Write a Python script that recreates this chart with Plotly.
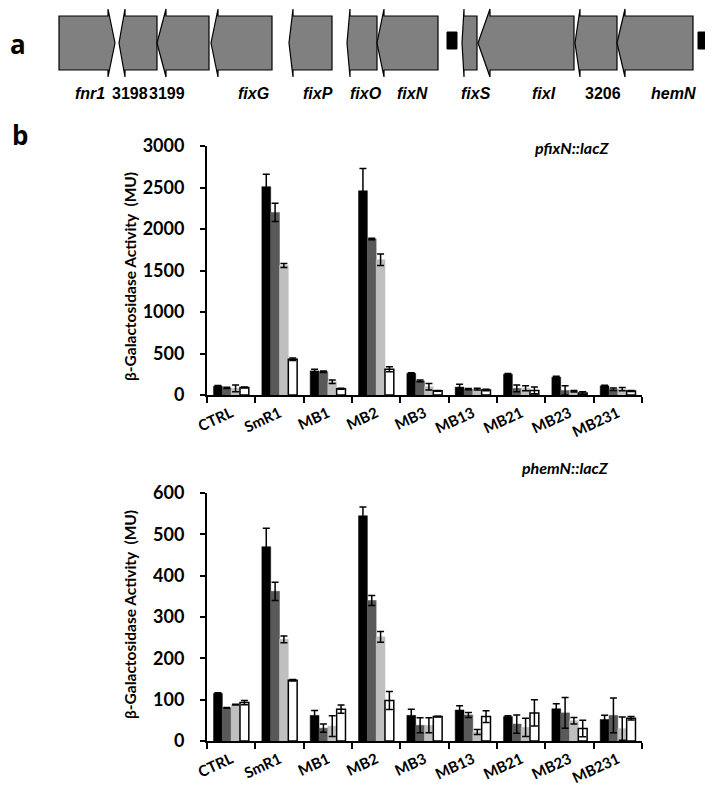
import plotly.graph_objects as go

W, H = 713, 798
OFF = 8  # the page places the figure 8 px in from the top-left corner

# ---------------- data ----------------
categories = ["CTRL", "SmR1", "MB1", "MB2", "MB3", "MB13", "MB21", "MB23", "MB231"]

# panel b, top: pfixN::lacZ
fix_black = [105, 2510, 290, 2460, 260, 95, 250, 215, 110]
fix_black_err = [10, 150, 20, 270, 8, 35, 8, 10, 8]
fix_dark = [85, 2200, 280, 1880, 170, 70, 80, 55, 70]
fix_dark_err = [8, 110, 8, 10, 10, 8, 40, 55, 15]
fix_light = [80, 1560, 160, 1630, 100, 70, 80, 45, 70]
fix_light_err = [40, 25, 20, 70, 40, 10, 30, 8, 20]
fix_white = [90, 430, 75, 310, 50, 60, 55, 25, 48]
fix_white_err = [5, 15, 5, 30, 5, 8, 40, 15, 5]

# panel b, bottom: phemN::lacZ
hem_black = [115, 470, 62, 545, 62, 75, 59, 78, 52]
hem_black_err = [2, 45, 12, 21, 15, 10, 2, 12, 10]
hem_dark = [80, 362, 31, 340, 38, 63, 41, 68, 62]
hem_dark_err = [1, 22, 10, 12, 18, 6, 22, 37, 42]
hem_light = [88, 246, 36, 252, 38, 22, 33, 49, 30]
hem_light_err = [1, 8, 25, 13, 18, 6, 22, 8, 28]
hem_white = [93, 147, 77, 98, 59, 59, 68, 30, 55]
hem_white_err = [5, 2, 10, 22, 1, 14, 32, 20, 4]

fix_ticks = [0, 500, 1000, 1500, 2000, 2500, 3000]
hem_ticks = [0, 100, 200, 300, 400, 500, 600]

# panel a: gene map (schematic units)
genes = ["fnr1", "3198", "3199", "fixG", "fixP", "fixO", "fixN", "fixS", "fixI", "3206", "hemN"]
gene_left = [59, 119, 157, 211, 289, 347, 377, 462, 478, 575, 617]
gene_right = [115, 157, 209, 272, 332, 377, 438, 477, 574, 617, 693]
gene_strand = [1, -1, -1, -1, -1, -1, -1, -1, -1, -1, -1]
gene_head = [7, 6, 9, 7, 4, 3, 7, 2, 12, 5, 8]
gene_label_x = [90, 129.5, 167, 253, 317.5, 366, 412, 476, 543.5, 603, 673.5]
box_left = [447, 698]
box_right = [457, 708]

# ---------------- styles ----------------
BAR_COLORS = ["#000000", "#595959", "#bfbfbf", "#ffffff"]
FONT = "Lato, 'Open Sans', 'DejaVu Sans', sans-serif"
GENEFONT = "'Liberation Sans Narrow', 'Liberation Sans', Arial, sans-serif"


def px_x(p):
    return (p - OFF) / W


def px_y(p):
    return 1 - (p - OFF) / H


fig = go.Figure()

series_sets = [
    ("x", "y", [(fix_black, fix_black_err), (fix_dark, fix_dark_err),
                (fix_light, fix_light_err), (fix_white, fix_white_err)]),
    ("x2", "y2", [(hem_black, hem_black_err), (hem_dark, hem_dark_err),
                  (hem_light, hem_light_err), (hem_white, hem_white_err)]),
]
for xa, ya, sets in series_sets:
    for i, (vals, errs) in enumerate(sets):
        fig.add_trace(go.Bar(
            x=categories, y=vals, xaxis=xa, yaxis=ya,
            offsetgroup=str(i),
            marker=dict(color=BAR_COLORS[i],
                        line=dict(color="#000000" if i in (0, 3) else BAR_COLORS[i],
                                  width=1.5 if i == 3 else 0.5)),
            error_y=dict(type="data", array=errs, visible=True,
                         color="#000000", thickness=1.5, width=3.5),
            showlegend=False, hoverinfo="skip",
        ))

xdom = [px_x(207), px_x(642)]
common_x = dict(
    type="category", range=[-0.5, 8.5], showline=True, linecolor="black", linewidth=2,
    ticks="outside", tickson="boundaries", ticklen=6, tickwidth=2, tickcolor="black",
    tickangle=-25, showgrid=False, zeroline=False, automargin=False,
    tickfont=dict(family=FONT, size=15, color="black", weight="bold"),
    ticklabelstandoff=2,
)
common_y = dict(
    showline=True, linecolor="black", linewidth=2, ticks="outside", ticklen=5,
    tickwidth=1.5, tickcolor="black", showgrid=False, zeroline=False, automargin=False,
    tickfont=dict(family=FONT, size=18, color="black", weight="bold"),
    ticklabelstandoff=12,
)

fig.update_layout(
    width=W, height=H,
    margin=dict(l=0, r=0, t=0, b=0, pad=0, autoexpand=False),
    paper_bgcolor="white", plot_bgcolor="white",
    barmode="group", bargap=0.27, bargroupgap=0,
    showlegend=False,
    xaxis=dict(domain=xdom, anchor="y", **common_x),
    yaxis=dict(domain=[px_y(395), px_y(146)], anchor="x", range=[0, 3000],
               tickvals=fix_ticks, **common_y),
    xaxis2=dict(domain=xdom, anchor="y2", **common_x),
    yaxis2=dict(domain=[px_y(741), px_y(493)], anchor="x2", range=[0, 600],
                tickvals=hem_ticks, **common_y),
    xaxis3=dict(domain=[0, 1], range=[OFF, W + OFF], visible=False, anchor="y3", fixedrange=True),
    yaxis3=dict(domain=[px_y(118), 1], range=[118, OFF], visible=False, anchor="x3", fixedrange=True),
)

# ---------------- gene map ----------------
TOP, BOT, BARB_T, BARB_B = 16, 70, 9, 77
MID = (TOP + BOT) / 2
shapes = []
for left, right, strand, head in zip(gene_left, gene_right, gene_strand, gene_head):
    if strand < 0:
        tip, base, end = left, left + head, right
    else:
        tip, base, end = right, right - head, left
    path = (f"M {end},{TOP} L {base},{TOP} L {base},{BARB_T} L {tip},{MID} "
            f"L {base},{BARB_B} L {base},{BOT} L {end},{BOT} Z")
    shapes.append(dict(type="path", path=path, xref="x3", yref="y3",
                       fillcolor="#808080", line=dict(color="#000000", width=1.2)))
for bl, br in zip(box_left, box_right):
    shapes.append(dict(type="rect", x0=bl, x1=br, y0=32, y1=49, xref="x3", yref="y3",
                       fillcolor="#000000", line=dict(color="#000000", width=1)))
fig.update_layout(shapes=shapes)

annotations = []
for name, lx in zip(genes, gene_label_x):
    italic = not name[0].isdigit()
    annotations.append(dict(
        x=lx, y=93, xref="x3", yref="y3", text=name, showarrow=False,
        xanchor="center", yanchor="middle",
        font=dict(family=GENEFONT, size=16, color="black", weight="bold",
                  style="italic" if italic else "normal"),
    ))

# panel letters
annotations.append(dict(x=0, y=px_y(44), xref="paper", yref="paper", text="a",
                        showarrow=False, xanchor="left", yanchor="middle",
                        font=dict(family="'Open Sans', sans-serif", size=26, color="black", weight="bold")))
annotations.append(dict(x=px_x(20), y=px_y(135), xref="paper", yref="paper", text="b",
                        showarrow=False, xanchor="center", yanchor="middle",
                        font=dict(family="'Open Sans', sans-serif", size=26, color="black", weight="bold")))

# axis titles
ytitle = "β-Galactosidase Activity  (MU)"
for cy in (277, 615):
    annotations.append(dict(x=px_x(130), y=px_y(cy), xref="paper", yref="paper", text=ytitle,
                            textangle=-90, showarrow=False, xanchor="center", yanchor="middle",
                            font=dict(family=FONT, size=15.5, color="black", weight="bold")))

# chart labels
for txt, cy in (("pfixN::lacZ", 147), ("phemN::lacZ", 467)):
    annotations.append(dict(x=px_x(611), y=px_y(cy), xref="paper", yref="paper", text=txt,
                            showarrow=False, xanchor="right", yanchor="middle",
                            font=dict(family=FONT, size=16, color="black", weight="bold",
                                      style="italic")))

fig.update_layout(annotations=annotations)

fig.write_html("out.html")
